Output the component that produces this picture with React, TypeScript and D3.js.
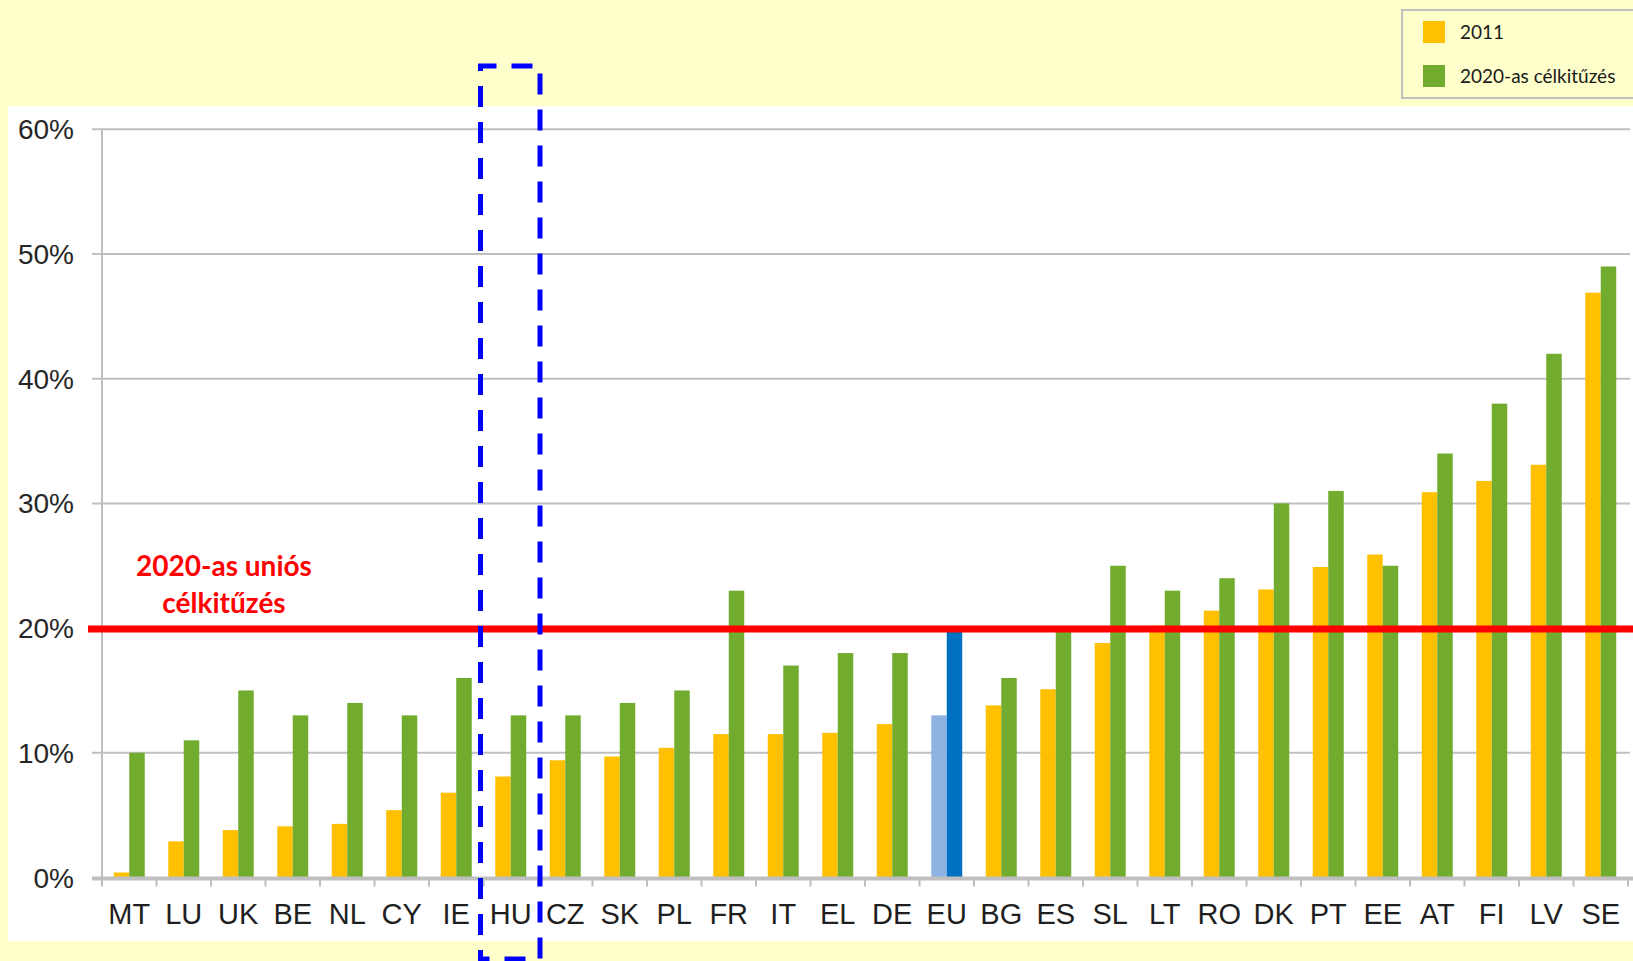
import * as d3 from 'd3';

const countries = ['MT', 'LU', 'UK', 'BE', 'NL', 'CY', 'IE', 'HU', 'CZ', 'SK', 'PL', 'FR', 'IT', 'EL', 'DE', 'EU', 'BG', 'ES', 'SL', 'LT', 'RO', 'DK', 'PT', 'EE', 'AT', 'FI', 'LV', 'SE'];
const share2011 = [0.4, 2.9, 3.8, 4.1, 4.3, 5.4, 6.8, 8.1, 9.4, 9.7, 10.4, 11.5, 11.5, 11.6, 12.3, 13.0, 13.8, 15.1, 18.8, 20.2, 21.4, 23.1, 24.9, 25.9, 30.9, 31.8, 33.1, 46.9];
const target2020 = [10, 11, 15, 13, 14, 13, 16, 13, 13, 14, 15, 23, 17, 18, 18, 20, 16, 20, 25, 23, 24, 30, 31, 25, 34, 38, 42, 49];
const yTicks = [0, 10, 20, 30, 40, 50, 60];
const seriesNames = ['2011', '2020-as célkitűzés'];
const euTarget = 20;
const highlight = 'HU';

const W = 1633;
const H = 961;
const BG = '#FFFFCC';
const ORANGE = '#FFC000';
const GREEN = '#72AC2F';
const EU_LIGHT = '#8DB3E2';
const EU_DARK = '#0070C0';
const GRID = '#BFBFBF';
const axisFont = '"Liberation Sans", Arial, sans-serif';
const labelFont = 'Lato, "Open Sans", sans-serif';

export default function App() {
  const x = d3.scaleBand<string>().domain(countries).range([102, 1628]).paddingInner(0).paddingOuter(0);
  const x1 = d3.scaleBand<string>().domain(['a', 'b']).range([0, x.bandwidth()]).paddingInner(0).paddingOuter(0.76);
  const y = d3.scaleLinear().domain([0, 60]).range([877.5, 129.3]);

  const tickXs = countries.map(c => x(c) as number).concat([(x(countries[countries.length - 1]) as number) + x.bandwidth()]);

  // dashed box around the highlighted country
  const hx = x(highlight) as number;
  const boxLeft = hx - 3;
  const boxRight = hx + x.bandwidth() + 2;

  return (
    <svg width={W} height={H} style={{ position: 'absolute', left: 0, top: 0, display: 'block' }}>
      <rect x={0} y={0} width={W} height={H} fill={BG} />
      <rect x={8} y={106} width={W - 8} height={835} fill="#fff" />

      {yTicks.filter(t => t > 0).map(t => (
        <line key={t} x1={92} x2={1630} y1={y(t)} y2={y(t)} stroke={GRID} strokeWidth={2} />
      ))}
      <line x1={102} x2={102} y1={y(60)} y2={y(0)} stroke={GRID} strokeWidth={2} />

      {yTicks.map(t => (
        <text key={t} x={74} y={y(t)} dy="0.36em" textAnchor="end" fontFamily={axisFont} fontSize={28} fill="#262626">
          {t}%
        </text>
      ))}

      {countries.map((c, i) => {
        const isEU = c === 'EU';
        const x0 = x(c) as number;
        return (
          <g key={c}>
            <rect x={x0 + (x1('a') as number)} y={y(share2011[i])} width={x1.bandwidth()} height={y(0) - y(share2011[i])} fill={isEU ? EU_LIGHT : ORANGE} />
            <rect x={x0 + (x1('b') as number)} y={y(target2020[i])} width={x1.bandwidth()} height={y(0) - y(target2020[i])} fill={isEU ? EU_DARK : GREEN} />
          </g>
        );
      })}

      <line x1={92} x2={1633} y1={y(0) + 1} y2={y(0) + 1} stroke={GRID} strokeWidth={4} />
      {tickXs.map((tx, i) => (
        <line key={i} x1={tx} x2={tx} y1={y(0)} y2={y(0) + 9} stroke={GRID} strokeWidth={2} />
      ))}

      {countries.map(c => (
        <text key={c} x={(x(c) as number) + x.bandwidth() / 2} y={924} textAnchor="middle" fontFamily={axisFont} fontSize={29} fill="#1F1F1F">
          {c}
        </text>
      ))}

      <line x1={88} x2={W} y1={y(euTarget) + 1} y2={y(euTarget) + 1} stroke="#FF0000" strokeWidth={7} />
      <text x={224} y={576} textAnchor="middle" fontFamily={labelFont} fontWeight={700} fontSize={28} fill="#FF0000">2020-as uniós</text>
      <text x={224} y={613} textAnchor="middle" fontFamily={labelFont} fontWeight={700} fontSize={28} fill="#FF0000">célkitűzés</text>

      <path
        d={`M${boxLeft},${H + 10} L${boxLeft},66 L${boxRight},66 L${boxRight},959 L${boxLeft},959`}
        fill="none"
        stroke="#0000FF"
        strokeWidth={5}
        strokeDasharray="21 15"
      />

      <rect x={1402} y={10} width={260} height={88} fill={BG} stroke="#BFBFBF" strokeWidth={2} />
      {seriesNames.map((s, i) => (
        <g key={s}>
          <rect x={1423} y={21 + i * 44} width={22} height={22} fill={i === 0 ? ORANGE : GREEN} />
          <text x={1460} y={32 + i * 44} dy="0.35em" fontFamily={labelFont} fontSize={19} fill="#1a1a1a">{s}</text>
        </g>
      ))}
    </svg>
  );
}
